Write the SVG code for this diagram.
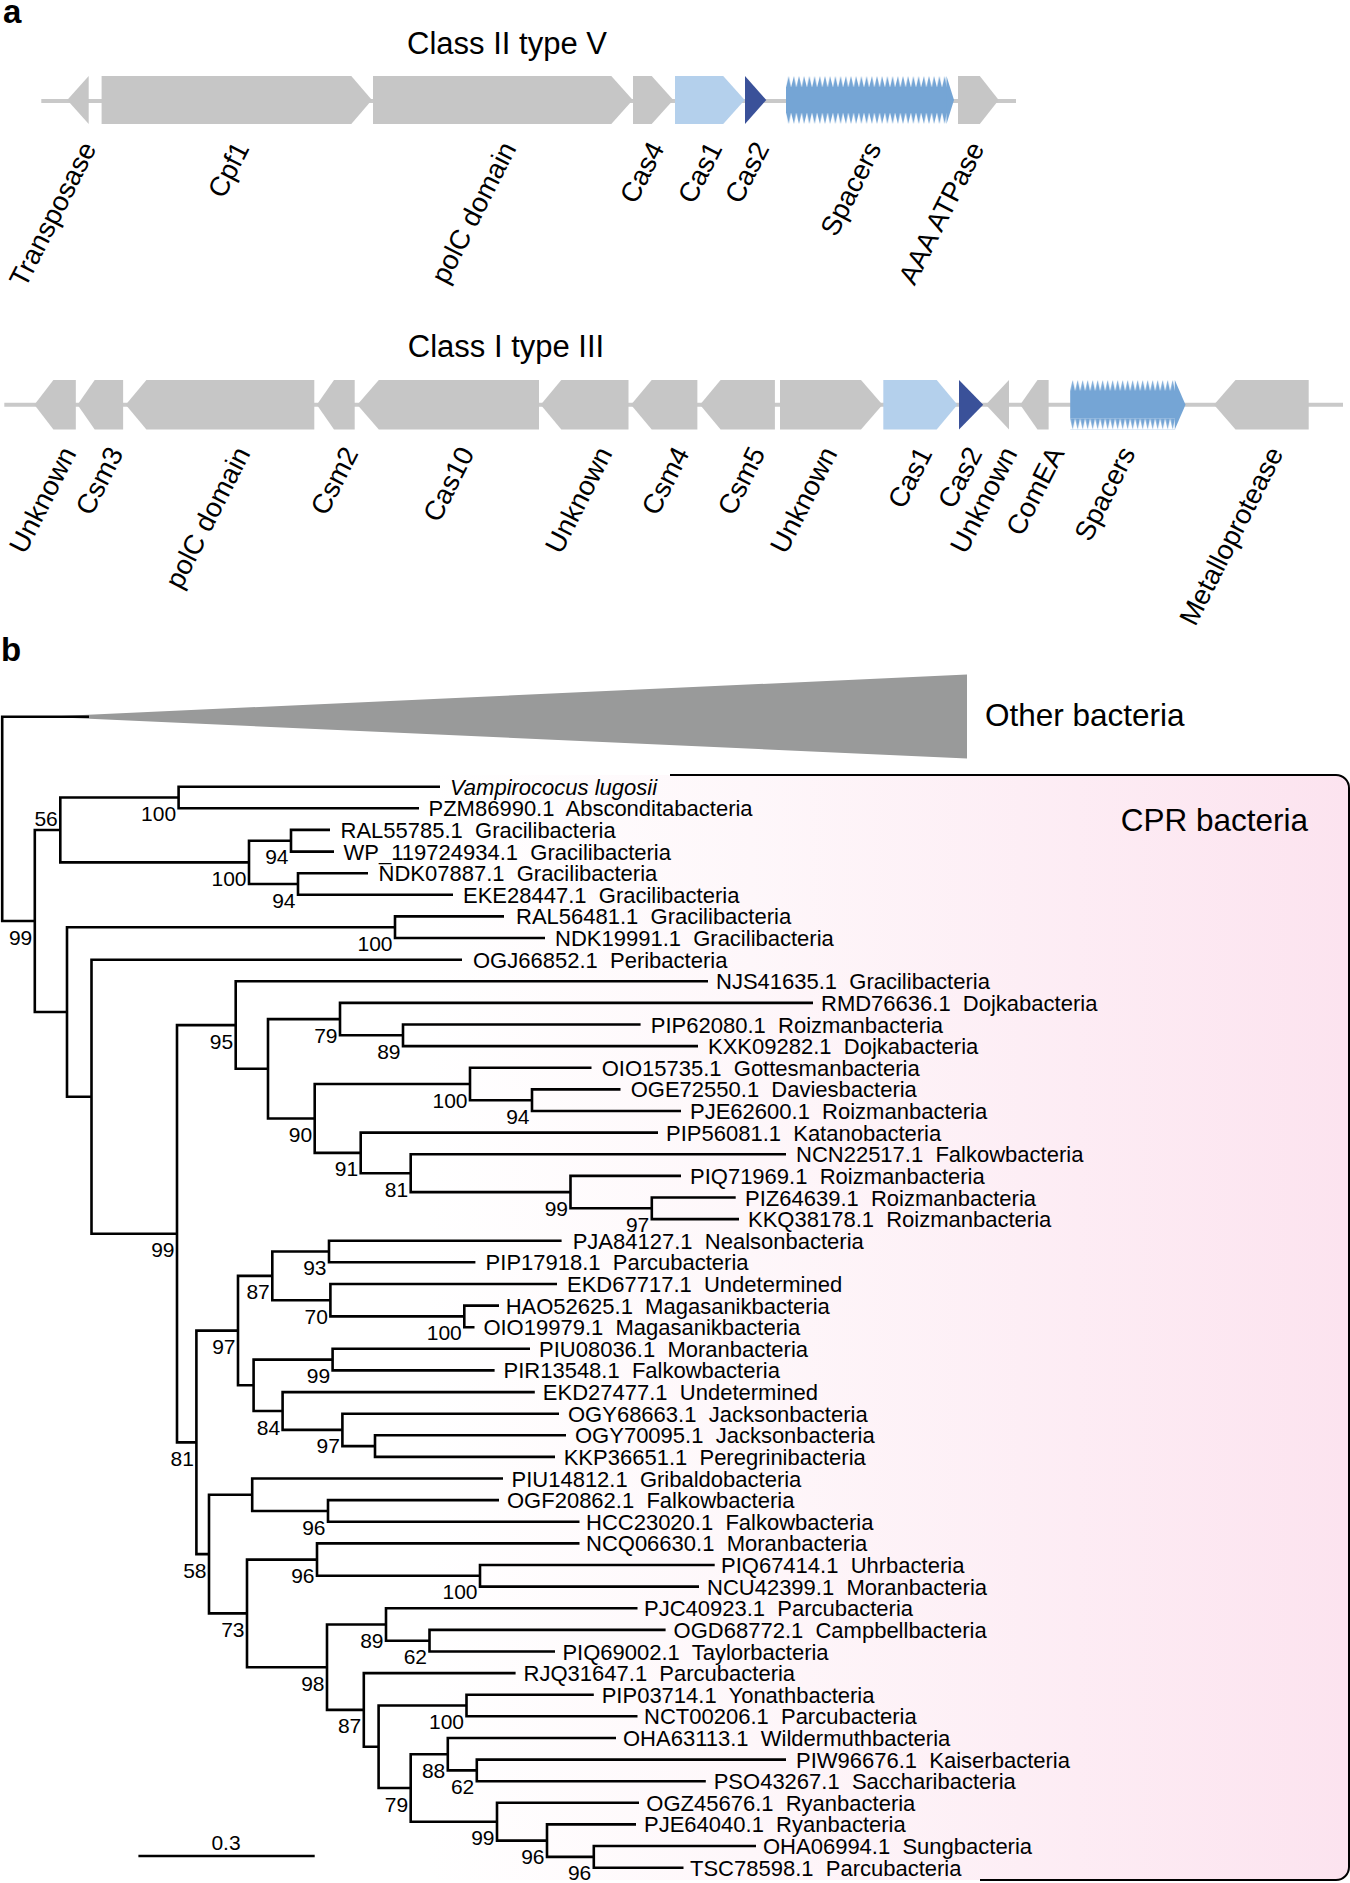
<svg xmlns="http://www.w3.org/2000/svg" width="1350" height="1883" viewBox="0 0 1350 1883">
<style>
text{font-family:"Liberation Sans",Arial,Helvetica,sans-serif;fill:#000;white-space:pre}
.panel{font-size:33px;font-weight:bold}
.title{font-size:31px;text-anchor:middle}
.glab{font-size:27.5px;text-anchor:end}
.gene{fill:#c6c6c6}
.cas1{fill:#b4d0ec}
.cas2{fill:#3a5199}
.sp{fill:#75a5d5}
.bb{stroke:#c9c9c9;stroke-width:4;fill:none}
.br{fill:none;stroke:#000;stroke-width:2.6;stroke-linejoin:miter}
.lf{font-size:22px}
.it{font-style:italic}
.bs{font-size:21px;text-anchor:end}
.big{font-size:31.5px}
</style>
<defs>
<pattern id="tt1" patternUnits="userSpaceOnUse" x="786" y="76" width="5.2" height="11.5"><polygon points="0,11.5 2.6,0 5.2,11.5" fill="#75a5d5"/></pattern>
<pattern id="tb1" patternUnits="userSpaceOnUse" x="786" y="112.5" width="5.2" height="11.5"><polygon points="0,0 2.6,11.5 5.2,0" fill="#75a5d5"/></pattern>
<pattern id="tt2" patternUnits="userSpaceOnUse" x="1070.2" y="380" width="5.0" height="11.2"><polygon points="0,11.2 2.5,0 5,11.2" fill="#75a5d5"/></pattern>
<pattern id="tb2" patternUnits="userSpaceOnUse" x="1070.2" y="418.2" width="5.0" height="11.2"><polygon points="0,0 2.5,11.2 5,0" fill="#75a5d5"/></pattern>
<linearGradient id="pink" x1="0" y1="0" x2="1" y2="0">
<stop offset="0" stop-color="#ffffff"/>
<stop offset="0.35" stop-color="#fef7fa"/>
<stop offset="1" stop-color="#fce3ef"/>
</linearGradient>
</defs>

<!-- Panel a -->
<text class="panel" x="3" y="23">a</text>
<text class="title" x="507" y="54">Class II type V</text>
<line class="bb" x1="41.3" y1="101" x2="1016" y2="101"/>
<g id="r1-transposase"><polygon class="gene" points="67.2,100 88.7,76 88.7,124"/><text class="glab" transform="translate(97,148) rotate(-63)">Transposase</text></g>
<g id="r1-cpf1"><polygon class="gene" points="101.6,76 351.3,76 371.9,100 351.3,124 101.6,124"/><text class="glab" transform="translate(250,148) rotate(-63)">Cpf1</text></g>
<g id="r1-polc"><polygon class="gene" points="373,76 611.3,76 632.8,100 611.3,124 373,124"/><text class="glab" transform="translate(517,148) rotate(-63)">polC domain</text></g>
<g id="r1-cas4"><polygon class="gene" points="633,76 651.7,76 673.3,100 651.7,124 633,124"/><text class="glab" transform="translate(665,148) rotate(-63)">Cas4</text></g>
<g id="r1-cas1"><polygon class="cas1" points="675,76 723.2,76 744.7,100 723.2,124 675,124"/><text class="glab" transform="translate(723,148) rotate(-63)">Cas1</text></g>
<g id="r1-cas2"><polygon class="cas2" points="745,76 766.3,100 745,124"/><text class="glab" transform="translate(770,148) rotate(-63)">Cas2</text></g>
<g id="r1-spacers"><rect x="786" y="76" width="161" height="11.5" fill="url(#tt1)"/><rect class="sp" x="786" y="87" width="161" height="26"/><rect x="786" y="112.5" width="161" height="11.5" fill="url(#tb1)"/><polygon class="sp" points="946.5,76 954,100 946.5,124"/><text class="glab" transform="translate(882,148) rotate(-63)">Spacers</text></g>
<g id="r1-aaa"><polygon class="gene" points="958,76 979.8,76 998.7,100 979.8,124 958,124"/><text class="glab" transform="translate(985,148) rotate(-63)">AAA ATPase</text></g>

<text class="title" x="506" y="357">Class I type III</text>
<line class="bb" x1="4.3" y1="404.7" x2="1343" y2="404.7"/>
<g id="r2-unknown1"><polygon class="gene" points="34.4,404.7 53.4,380 75.8,380 75.8,429.4 53.4,429.4"/><text class="glab" transform="translate(77,453) rotate(-63)">Unknown</text></g>
<g id="r2-csm3"><polygon class="gene" points="77.5,404.7 94.7,380 123.1,380 123.1,429.4 94.7,429.4"/><text class="glab" transform="translate(124,453) rotate(-63)">Csm3</text></g>
<g id="r2-polc"><polygon class="gene" points="125.7,404.7 146.4,380 314.3,380 314.3,429.4 146.4,429.4"/><text class="glab" transform="translate(251,453) rotate(-63)">polC domain</text></g>
<g id="r2-csm2"><polygon class="gene" points="316.8,404.7 334,380 354.7,380 354.7,429.4 334,429.4"/><text class="glab" transform="translate(359,453) rotate(-63)">Csm2</text></g>
<g id="r2-cas10"><polygon class="gene" points="357.3,404.7 378.8,380 539,380 539,429.4 378.8,429.4"/><text class="glab" transform="translate(475,453) rotate(-63)">Cas10</text></g>
<g id="r2-unknown2"><polygon class="gene" points="540.7,404.7 561.3,380 628.5,380 628.5,429.4 561.3,429.4"/><text class="glab" transform="translate(613,453) rotate(-63)">Unknown</text></g>
<g id="r2-csm4"><polygon class="gene" points="631,404.7 651.7,380 697.4,380 697.4,429.4 651.7,429.4"/><text class="glab" transform="translate(690,453) rotate(-63)">Csm4</text></g>
<g id="r2-csm5"><polygon class="gene" points="700,404.7 720.6,380 774.9,380 774.9,429.4 720.6,429.4"/><text class="glab" transform="translate(766,453) rotate(-63)">Csm5</text></g>
<g id="r2-unknown3"><polygon class="gene" points="780,380 861,380 882.5,404.7 861,429.4 780,429.4"/><text class="glab" transform="translate(838,453) rotate(-63)">Unknown</text></g>
<g id="r2-cas1"><polygon class="cas1" points="883.3,380 936.7,380 957.4,404.7 936.7,429.4 883.3,429.4"/><text class="glab" transform="translate(933,453) rotate(-63)">Cas1</text></g>
<g id="r2-cas2"><polygon class="cas2" points="959,380 983.2,404.7 959,429.4"/><text class="glab" transform="translate(983,453) rotate(-63)">Cas2</text></g>
<g id="r2-unknown4"><polygon class="gene" points="985.8,404.7 1009,380 1009,429.4"/><text class="glab" transform="translate(1018,453) rotate(-63)">Unknown</text></g>
<g id="r2-comea"><polygon class="gene" points="1020.2,404.7 1037.5,380 1048.6,380 1048.6,429.4 1037.5,429.4"/><text class="glab" transform="translate(1065,453) rotate(-63)">ComEA</text></g>
<g id="r2-spacers"><rect x="1070.2" y="380" width="105" height="11.2" fill="url(#tt2)"/><rect class="sp" x="1070.2" y="391" width="105" height="27.4"/><rect x="1070.2" y="418.2" width="105" height="11.2" fill="url(#tb2)"/><polygon class="sp" points="1174.8,380 1185.5,404.7 1174.8,429.4"/><text class="glab" transform="translate(1136,453) rotate(-63)">Spacers</text></g>
<g id="r2-metallo"><polygon class="gene" points="1214,404.7 1235.5,380 1308.7,380 1308.7,429.4 1235.5,429.4"/><text class="glab" transform="translate(1284,453) rotate(-63)">Metalloprotease</text></g>

<!-- Panel b -->
<text class="panel" x="1" y="661">b</text>
<g id="cpr-box">
<rect x="428" y="775" width="921" height="1105" rx="13" fill="url(#pink)"/>
<path d="M670,775 H1336 A13,13 0 0 1 1349,788 V1867 A13,13 0 0 1 1336,1880 H980" fill="none" stroke="#000" stroke-width="2"/>
<text class="big" x="1308" y="831" text-anchor="end">CPR bacteria</text>
</g>
<g id="other-bacteria">
<polygon points="45,716.7 967,674.5 967,758.5" fill="#999a9a"/>
<text class="big" x="985" y="726">Other bacteria</text>
</g>

<g id="branches" class="br">
<path d="M89,716.7 H2.2 V921 H34.8"/>
<path d="M60.3,829.95 H34.8 V1012 H67"/>
<path d="M178.6,797.5 H60.3 V862.4 H249"/>
<path d="M440,786.7 H178.6 V808.3 H419"/>
<path d="M291,840.75 H249 V884 H298"/>
<path d="M330,829.9 H291 V851.6 H334"/>
<path d="M368,873.2 H298 V894.8 H453"/>
<path d="M395,927.2 H67 V1096.7 H91.5"/>
<path d="M504,916.4 H395 V938 H545"/>
<path d="M462,959.7 H91.5 V1233.7 H177"/>
<path d="M235.7,1025.1 H177 V1442.4 H196.4"/>
<path d="M708,981.3 H235.7 V1068.8 H268"/>
<path d="M340,1019.1 H268 V1118.5 H314.7"/>
<path d="M813,1002.9 H340 V1035.3 H403"/>
<path d="M640.6,1024.5 H403 V1046.1 H698"/>
<path d="M470,1084 H314.7 V1152.9 H360.7"/>
<path d="M591.5,1067.8 H470 V1100.2 H532"/>
<path d="M620.5,1089.4 H532 V1111 H681"/>
<path d="M658,1132.6 H360.7 V1173.2 H410.7"/>
<path d="M786,1154.2 H410.7 V1192.1 H570.5"/>
<path d="M681,1175.9 H570.5 V1208.3 H651.8"/>
<path d="M735.7,1197.5 H651.8 V1219.1 H739"/>
<path d="M238,1330.6 H196.4 V1554.1 H209"/>
<path d="M272.3,1275.9 H238 V1385.3 H253.6"/>
<path d="M329,1251.5 H272.3 V1300.2 H330.4"/>
<path d="M561.6,1240.7 H329 V1262.3 H475.4"/>
<path d="M557,1284 H330.4 V1316.4 H464.3"/>
<path d="M499,1305.6 H464.3 V1327.2 H474.5"/>
<path d="M332.6,1359.6 H253.6 V1411 H282.6"/>
<path d="M530,1348.8 H332.6 V1370.4 H494.6"/>
<path d="M534.8,1392.1 H282.6 V1429.9 H342.4"/>
<path d="M559,1413.7 H342.4 V1446.1 H375"/>
<path d="M566,1435.3 H375 V1456.9 H555"/>
<path d="M252.2,1494.8 H209 V1613.4 H247"/>
<path d="M503,1478.5 H252.2 V1511 H328"/>
<path d="M499,1500.1 H328 V1521.8 H579.5"/>
<path d="M317,1559.6 H247 V1667.2 H327"/>
<path d="M579.5,1543.4 H317 V1575.8 H480"/>
<path d="M714.7,1565 H480 V1586.6 H699"/>
<path d="M386,1624.5 H327 V1709.9 H363.8"/>
<path d="M637.5,1608.2 H386 V1640.7 H429.5"/>
<path d="M665.6,1629.9 H429.5 V1651.5 H555"/>
<path d="M515.6,1673.1 H363.8 V1746.7 H378.6"/>
<path d="M466.5,1705.5 H378.6 V1788 H410.7"/>
<path d="M593.8,1694.7 H466.5 V1716.3 H637.5"/>
<path d="M447.8,1754.2 H410.7 V1821.7 H497"/>
<path d="M616,1738 H447.8 V1770.4 H476.8"/>
<path d="M786,1759.6 H476.8 V1781.2 H705.8"/>
<path d="M639,1802.8 H497 V1840.6 H547"/>
<path d="M636,1824.4 H547 V1856.9 H593.8"/>
<path d="M756,1846 H593.8 V1867.7 H683.5"/>
</g>

<g id="support" class="bs">
<text x="32.3" y="944.5">99</text>
<text x="57.8" y="826">56</text>
<text x="176.1" y="821">100</text>
<text x="288.5" y="864.3">94</text>
<text x="246.5" y="885.9">100</text>
<text x="295.5" y="907.5">94</text>
<text x="392.5" y="950.7">100</text>
<text x="174.5" y="1257.2">99</text>
<text x="233.2" y="1048.6">95</text>
<text x="337.5" y="1042.6">79</text>
<text x="400.5" y="1058.8">89</text>
<text x="312.2" y="1142">90</text>
<text x="467.5" y="1107.5">100</text>
<text x="529.5" y="1123.7">94</text>
<text x="358.2" y="1176.4">91</text>
<text x="408.2" y="1196.7">81</text>
<text x="568" y="1215.6">99</text>
<text x="649.3" y="1231.8">97</text>
<text x="193.9" y="1465.9">81</text>
<text x="235.5" y="1354.1">97</text>
<text x="269.8" y="1299.4">87</text>
<text x="326.5" y="1275">93</text>
<text x="327.9" y="1323.7">70</text>
<text x="461.8" y="1339.9">100</text>
<text x="330.1" y="1383.1">99</text>
<text x="280.1" y="1434.5">84</text>
<text x="339.9" y="1453.4">97</text>
<text x="206.5" y="1577.6">58</text>
<text x="325.5" y="1534.5">96</text>
<text x="244.5" y="1636.9">73</text>
<text x="314.5" y="1583.1">96</text>
<text x="477.5" y="1599.3">100</text>
<text x="324.5" y="1690.7">98</text>
<text x="383.5" y="1648">89</text>
<text x="427" y="1664.2">62</text>
<text x="361.3" y="1733.4">87</text>
<text x="464" y="1729">100</text>
<text x="408.2" y="1811.5">79</text>
<text x="445.3" y="1777.7">88</text>
<text x="474.3" y="1793.9">62</text>
<text x="494.5" y="1845.2">99</text>
<text x="544.5" y="1864.1">96</text>
<text x="591.3" y="1880.4">96</text>
</g>

<g class="lf">
<g id="leaf01"><text class="it" x="450" y="794.7">Vampirococus lugosii</text></g>
<g id="leaf02"><text x="428.5" y="816.3">PZM86990.1  Absconditabacteria</text></g>
<g id="leaf03"><text x="340.5" y="837.9">RAL55785.1  Gracilibacteria</text></g>
<g id="leaf04"><text x="343.6" y="859.6">WP_119724934.1  Gracilibacteria</text></g>
<g id="leaf05"><text x="378.5" y="881.2">NDK07887.1  Gracilibacteria</text></g>
<g id="leaf06"><text x="463" y="902.8">EKE28447.1  Gracilibacteria</text></g>
<g id="leaf07"><text x="516" y="924.4">RAL56481.1  Gracilibacteria</text></g>
<g id="leaf08"><text x="555" y="946">NDK19991.1  Gracilibacteria</text></g>
<g id="leaf09"><text x="473" y="967.7">OGJ66852.1  Peribacteria</text></g>
<g id="leaf10"><text x="716" y="989.3">NJS41635.1  Gracilibacteria</text></g>
<g id="leaf11"><text x="821" y="1010.9">RMD76636.1  Dojkabacteria</text></g>
<g id="leaf12"><text x="650.8" y="1032.5">PIP62080.1  Roizmanbacteria</text></g>
<g id="leaf13"><text x="708" y="1054.1">KXK09282.1  Dojkabacteria</text></g>
<g id="leaf14"><text x="601.7" y="1075.8">OIO15735.1  Gottesmanbacteria</text></g>
<g id="leaf15"><text x="630.7" y="1097.4">OGE72550.1  Daviesbacteria</text></g>
<g id="leaf16"><text x="690" y="1119">PJE62600.1  Roizmanbacteria</text></g>
<g id="leaf17"><text x="666" y="1140.6">PIP56081.1  Katanobacteria</text></g>
<g id="leaf18"><text x="796" y="1162.2">NCN22517.1  Falkowbacteria</text></g>
<g id="leaf19"><text x="690" y="1183.9">PIQ71969.1  Roizmanbacteria</text></g>
<g id="leaf20"><text x="745" y="1205.5">PIZ64639.1  Roizmanbacteria</text></g>
<g id="leaf21"><text x="748" y="1227.1">KKQ38178.1  Roizmanbacteria</text></g>
<g id="leaf22"><text x="572.7" y="1248.7">PJA84127.1  Nealsonbacteria</text></g>
<g id="leaf23"><text x="485.6" y="1270.3">PIP17918.1  Parcubacteria</text></g>
<g id="leaf24"><text x="567" y="1292">EKD67717.1  Undetermined</text></g>
<g id="leaf25"><text x="505.7" y="1313.6">HAO52625.1  Magasanikbacteria</text></g>
<g id="leaf26"><text x="483.4" y="1335.2">OIO19979.1  Magasanikbacteria</text></g>
<g id="leaf27"><text x="539" y="1356.8">PIU08036.1  Moranbacteria</text></g>
<g id="leaf28"><text x="503.5" y="1378.4">PIR13548.1  Falkowbacteria</text></g>
<g id="leaf29"><text x="542.8" y="1400.1">EKD27477.1  Undetermined</text></g>
<g id="leaf30"><text x="568" y="1421.7">OGY68663.1  Jacksonbacteria</text></g>
<g id="leaf31"><text x="575" y="1443.3">OGY70095.1  Jacksonbacteria</text></g>
<g id="leaf32"><text x="563.7" y="1464.9">KKP36651.1  Peregrinibacteria</text></g>
<g id="leaf33"><text x="511.5" y="1486.5">PIU14812.1  Gribaldobacteria</text></g>
<g id="leaf34"><text x="507" y="1508.1">OGF20862.1  Falkowbacteria</text></g>
<g id="leaf35"><text x="586" y="1529.8">HCC23020.1  Falkowbacteria</text></g>
<g id="leaf36"><text x="586" y="1551.4">NCQ06630.1  Moranbacteria</text></g>
<g id="leaf37"><text x="721" y="1573">PIQ67414.1  Uhrbacteria</text></g>
<g id="leaf38"><text x="707" y="1594.6">NCU42399.1  Moranbacteria</text></g>
<g id="leaf39"><text x="644" y="1616.2">PJC40923.1  Parcubacteria</text></g>
<g id="leaf40"><text x="673.6" y="1637.9">OGD68772.1  Campbellbacteria</text></g>
<g id="leaf41"><text x="562.4" y="1659.5">PIQ69002.1  Taylorbacteria</text></g>
<g id="leaf42"><text x="523.6" y="1681.1">RJQ31647.1  Parcubacteria</text></g>
<g id="leaf43"><text x="601.7" y="1702.7">PIP03714.1  Yonathbacteria</text></g>
<g id="leaf44"><text x="644" y="1724.3">NCT00206.1  Parcubacteria</text></g>
<g id="leaf45"><text x="623" y="1746">OHA63113.1  Wildermuthbacteria</text></g>
<g id="leaf46"><text x="796" y="1767.6">PIW96676.1  Kaiserbacteria</text></g>
<g id="leaf47"><text x="713.7" y="1789.2">PSO43267.1  Saccharibacteria</text></g>
<g id="leaf48"><text x="646.3" y="1810.8">OGZ45676.1  Ryanbacteria</text></g>
<g id="leaf49"><text x="644" y="1832.4">PJE64040.1  Ryanbacteria</text></g>
<g id="leaf50"><text x="763" y="1854">OHA06994.1  Sungbacteria</text></g>
<g id="leaf51"><text x="690" y="1875.7">TSC78598.1  Parcubacteria</text></g>
</g>

<g id="scalebar">
<line x1="138.4" y1="1856" x2="314.7" y2="1856" stroke="#000" stroke-width="2.6"/>
<text x="226" y="1850" font-size="21" text-anchor="middle">0.3</text>
</g>
</svg>
